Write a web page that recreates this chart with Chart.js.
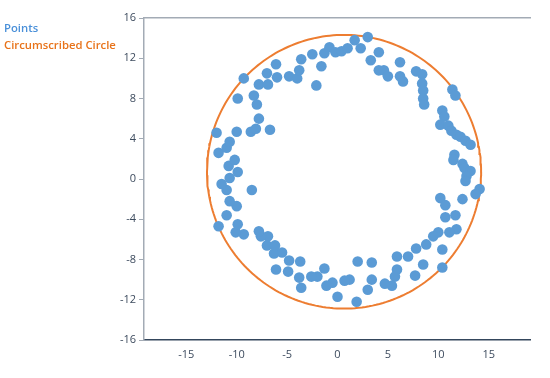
<!DOCTYPE html>
<html>
<head>
<meta charset="utf-8">
<script src="https://cdn.jsdelivr.net/npm/chart.js@4/dist/chart.umd.min.js"></script>
<style>
  html, body { margin: 0; padding: 0; background: #ffffff; }
  #wrap { position: relative; width: 550px; height: 378px; }
  #legend { position: absolute; left: 4px; top: 19px; font-family: "Open Sans", "Noto Sans", sans-serif; font-weight: 600; font-size: 11.3px; line-height: 17px; }
  #legend div { white-space: nowrap; }
</style>
</head>
<body>
<div id="wrap">
  <canvas id="c" width="550" height="378"></canvas>
  <div id="legend"></div>
</div>
<script>
// ---- data ----
const seriesNames = ["Points", "Circumscribed Circle"];
const seriesColors = ["#5b9bd5", "#ed7d31"];
const legendColors = ["#4a90d9", "#e8731a"];

const pointX = [
  -9.3, -9.9, -8.3, -8.0, -7.8, -7.8, -6.9, -7.0, -6.1, -6.0,
  -4.8, -4.0, -3.8, -3.6, -2.5, -2.1, -1.6, -1.3, -0.8, -0.2,
   0.4,  1.0,  1.7,  2.3,  3.0,  4.1,  3.3,  4.1,  4.6,  5.0,
   6.2,  6.2,  6.5,  7.8,  8.4,  8.4,  8.5,  8.5,  8.6, 11.4,
  11.7, 10.4, 10.6, 10.2, 11.0, 11.3, 11.8, 12.2, 12.7, 13.2,
  11.6, 11.5, 12.4, 12.6, 13.2, 12.8, 12.7, 14.1, 13.7, 12.4,
  10.2, 10.7, 11.7, 10.7, 11.8, 11.1, 10.0,  9.5,  8.8,  7.8,
   7.0,  5.9, 10.4,  8.5,  7.7,  5.9,  5.7,  5.4,  4.7, 10.4,
   3.4,  3.4,  3.0,  2.0,  1.9,  1.2,  0.7,  0.0, -0.5, -1.1,
  -1.3, -2.0, -2.6, -3.7, -3.8, -3.6, -4.9, -6.1, -4.8, -6.3,
  -5.5, -7.0, -6.2, -6.9, -7.6, -7.8, -9.3, -10.1, -9.9, -11.8,
  -11.0, -10.0, -10.7, -8.5, -11.0, -11.5, -10.7, -9.9, -10.8, -10.2,
  -11.8, -11.0, -10.7, -12.0, -10.0, -8.6, -8.1, -6.7
];
const pointY = [
  10.0,  8.0,  8.3,  7.4,  6.0,  9.4,  9.4, 10.5, 11.4, 10.1,
  10.2, 10.0, 10.8, 11.9, 12.4,  9.3, 11.2, 12.5, 13.1, 12.6,
  12.7, 13.0, 13.8, 13.0, 14.1, 12.6, 11.8, 10.8, 10.8, 10.2,
  11.6, 10.2,  9.7, 10.7, 10.4,  9.5,  8.8,  8.0,  7.4,  8.9,
   8.3,  6.8,  6.2,  5.4,  5.3,  4.8,  4.4,  4.2,  3.8,  3.4,
   2.4,  1.9,  1.5,  1.1,  0.8,  0.3, -0.2, -1.0, -1.5, -2.0,
  -1.9, -2.6, -3.6, -3.8, -5.0, -5.3, -5.3, -5.7, -6.5, -6.9,
  -7.7, -7.7, -7.0, -8.5, -9.6, -9.0, -9.7, -10.6, -10.4, -8.8,
  -8.3, -10.0, -11.0, -8.2, -12.2, -10.0, -10.1, -11.7, -10.3, -10.6,
  -8.9, -9.7, -9.7, -8.2, -9.8, -10.8, -9.2, -9.0, -8.1, -7.4,
  -7.3, -6.6, -6.6, -5.7, -5.7, -5.2, -5.5, -5.3, -4.5, -4.7,
  -3.6, -2.7, -2.2, -1.1, -1.1, -0.5,  0.1,  0.7,  1.3,  1.9,
   2.6,  3.1,  3.7,  4.6,  4.7,  4.7,  5.0,  4.9
];

// circumscribed circle: centre and radius
const circleCenterX = 0.65;
const circleCenterY = 0.72;
const circleRadius = 13.6;
const circleSamples = 240;

const xTicks = [-15, -10, -5, 0, 5, 10, 15];
const yTicks = [-16, -12, -8, -4, 0, 4, 8, 12, 16];
const xRange = [-19.2, 19.1];
const yRange = [-16, 16];

// ---- build datasets ----
const pointData = pointX.map((x, i) => ({ x: x, y: pointY[i] }));
const circleData = [];
for (let i = 0; i <= circleSamples; i++) {
  const t = (i / circleSamples) * 2 * Math.PI;
  circleData.push({ x: circleCenterX + circleRadius * Math.cos(t), y: circleCenterY + circleRadius * Math.sin(t) });
}

// HTML legend (text only)
const leg = document.getElementById('legend');
seriesNames.forEach((n, i) => {
  const d = document.createElement('div');
  d.textContent = n;
  d.style.color = legendColors[i];
  leg.appendChild(d);
});

const tickFont = { family: '"Open Sans", "Noto Sans", sans-serif', size: 11 };
const tickColor = '#3d4b5e';

new Chart(document.getElementById('c'), {
  type: 'scatter',
  data: {
    datasets: [
      {
        label: seriesNames[0],
        data: pointData,
        backgroundColor: seriesColors[0],
        borderColor: seriesColors[0],
        borderWidth: 0,
        pointRadius: 5.3,
        pointHoverRadius: 5.3,
        showLine: false
      },
      {
        label: seriesNames[1],
        data: circleData,
        borderColor: seriesColors[1],
        backgroundColor: seriesColors[1],
        borderWidth: 2,
        pointRadius: 0,
        showLine: true,
        tension: 0,
        fill: false
      }
    ]
  },
  options: {
    responsive: false,
    animation: false,
    devicePixelRatio: 1,
    layout: { padding: { left: 0, right: 20, top: 18, bottom: 0 } },
    plugins: { legend: { display: false }, tooltip: { enabled: false } },
    scales: {
      x: {
        type: 'linear',
        position: 'bottom',
        min: xRange[0],
        max: xRange[1],
        afterBuildTicks: (axis) => { axis.ticks = xTicks.map(v => ({ value: v })); },
        afterFit: (s) => { s.height = 38; },
        grid: { display: false, drawTicks: false },
        border: { display: true, color: '#34465c', width: 1.5 },
        ticks: { color: tickColor, font: tickFont, padding: 8, maxRotation: 0 }
      },
      xTop: {
        type: 'linear',
        position: 'top',
        min: xRange[0],
        max: xRange[1],
        afterFit: (s) => { s.height = 0; },
        grid: { display: false, drawTicks: false },
        border: { display: true, color: '#a3abb5', width: 1.5 },
        ticks: { display: false }
      },
      y: {
        type: 'linear',
        position: 'left',
        min: yRange[0],
        max: yRange[1],
        afterBuildTicks: (axis) => { axis.ticks = yTicks.map(v => ({ value: v })); },
        afterFit: (s) => { s.width = 144; },
        grid: { display: true, drawOnChartArea: false, drawTicks: true, tickLength: 5, color: '#a3abb5', tickWidth: 1 },
        border: { display: true, color: '#a3abb5', width: 1.5 },
        ticks: { color: tickColor, font: tickFont, padding: 3 }
      }
    }
  }
});
</script>
</body>
</html>
